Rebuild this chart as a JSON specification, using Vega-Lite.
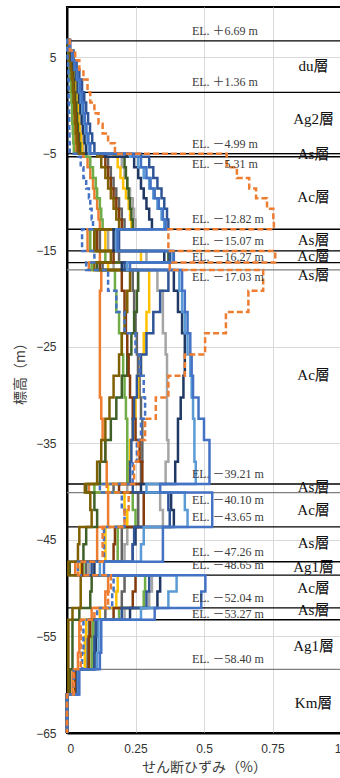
{
  "$schema": "https://vega.github.io/schema/vega-lite/v6.json",
  "width": 274,
  "height": 726,
  "autosize": {"type": "none"},
  "padding": {"left": 67, "top": 7, "right": 0, "bottom": 45},
  "background": "#ffffff",
  "datasets": {
    "pieces": [
      {"k":1,"y0":6.9,"y1":5.69},{"k":2,"y0":5.69,"y1":4.69},{"k":3,"y0":4.69,"y1":3.69},{"k":4,"y0":3.69,"y1":2.69},{"k":5,"y0":2.69,"y1":1.36},
      {"k":6,"y0":1.36,"y1":0.3},{"k":7,"y0":0.3,"y1":-0.8},{"k":8,"y0":-0.8,"y1":-1.9},{"k":9,"y0":-1.9,"y1":-2.9},{"k":10,"y0":-2.9,"y1":-3.9},
      {"k":11,"y0":-3.9,"y1":-4.99},{"k":12,"y0":-4.99,"y1":-5.31},{"k":13,"y0":-5.31,"y1":-6.4},{"k":14,"y0":-6.4,"y1":-7.5},{"k":15,"y0":-7.5,"y1":-8.6},
      {"k":16,"y0":-8.6,"y1":-9.6},{"k":17,"y0":-9.6,"y1":-10.7},{"k":18,"y0":-10.7,"y1":-11.8},{"k":19,"y0":-11.8,"y1":-12.82},{"k":20,"y0":-12.82,"y1":-15.07},
      {"k":21,"y0":-15.07,"y1":-16.27},{"k":22,"y0":-16.27,"y1":-17.03},{"k":23,"y0":-17.03,"y1":-19.2},{"k":24,"y0":-19.2,"y1":-21.4},{"k":25,"y0":-21.4,"y1":-23.6},
      {"k":26,"y0":-23.6,"y1":-25.8},{"k":27,"y0":-25.8,"y1":-28.0},{"k":28,"y0":-28.0,"y1":-30.25},{"k":29,"y0":-30.25,"y1":-32.45},{"k":30,"y0":-32.45,"y1":-34.65},
      {"k":31,"y0":-34.65,"y1":-36.9},{"k":32,"y0":-36.9,"y1":-39.21},{"k":33,"y0":-39.21,"y1":-40.1},{"k":34,"y0":-40.1,"y1":-41.9},{"k":35,"y0":-41.9,"y1":-43.65},
      {"k":36,"y0":-43.65,"y1":-45.45},{"k":37,"y0":-45.45,"y1":-47.26},{"k":38,"y0":-47.26,"y1":-48.65},{"k":39,"y0":-48.65,"y1":-50.35},{"k":40,"y0":-50.35,"y1":-52.04},
      {"k":41,"y0":-52.04,"y1":-53.27},{"k":42,"y0":-53.27,"y1":-55.0},{"k":43,"y0":-55.0,"y1":-56.7},{"k":44,"y0":-56.7,"y1":-58.4},{"k":45,"y0":-58.4,"y1":-61.0},
      {"k":46,"y0":-61.0,"y1":-65}
    ],
    "prof": [
      {"s":"OS","k":1,"v":0.004},{"s":"OS","k":2,"v":0.007},{"s":"OS","k":3,"v":0.011},{"s":"OS","k":4,"v":0.014},{"s":"OS","k":5,"v":0.017},{"s":"OS","k":6,"v":0.019},{"s":"OS","k":7,"v":0.021},{"s":"OS","k":8,"v":0.023},{"s":"OS","k":9,"v":0.025},{"s":"OS","k":10,"v":0.028},
      {"s":"OS","k":11,"v":0.03},{"s":"OS","k":12,"v":0.06},{"s":"OS","k":13,"v":0.075},{"s":"OS","k":14,"v":0.085},{"s":"OS","k":15,"v":0.095},{"s":"OS","k":16,"v":0.1},{"s":"OS","k":17,"v":0.11},{"s":"OS","k":18,"v":0.115},{"s":"OS","k":19,"v":0.12},{"s":"OS","k":20,"v":0.075},
      {"s":"OS","k":21,"v":0.12},{"s":"OS","k":22,"v":0.08},{"s":"OS","k":23,"v":0.125},{"s":"OS","k":24,"v":0.12},{"s":"OS","k":25,"v":0.12},{"s":"OS","k":26,"v":0.12},{"s":"OS","k":27,"v":0.12},{"s":"OS","k":28,"v":0.12},{"s":"OS","k":29,"v":0.125},{"s":"OS","k":30,"v":0.13},
      {"s":"OS","k":31,"v":0.14},{"s":"OS","k":32,"v":0.145},{"s":"OS","k":33,"v":0.08},{"s":"OS","k":34,"v":0.15},{"s":"OS","k":35,"v":0.15},{"s":"OS","k":36,"v":0.11},{"s":"OS","k":37,"v":0.11},{"s":"OS","k":38,"v":0.03},{"s":"OS","k":39,"v":0.15},{"s":"OS","k":40,"v":0.14},
      {"s":"OS","k":41,"v":0.09},{"s":"OS","k":42,"v":0.045},{"s":"OS","k":43,"v":0.045},{"s":"OS","k":44,"v":0.04},{"s":"OS","k":45,"v":0.02},{"s":"OS","k":46,"v":0},

      {"s":"GR","k":1,"v":0.007},{"s":"GR","k":2,"v":0.014},{"s":"GR","k":3,"v":0.021},{"s":"GR","k":4,"v":0.027},{"s":"GR","k":5,"v":0.033},{"s":"GR","k":6,"v":0.038},{"s":"GR","k":7,"v":0.042},{"s":"GR","k":8,"v":0.046},{"s":"GR","k":9,"v":0.05},{"s":"GR","k":10,"v":0.055},
      {"s":"GR","k":11,"v":0.06},{"s":"GR","k":12,"v":0.18},{"s":"GR","k":13,"v":0.2},{"s":"GR","k":14,"v":0.21},{"s":"GR","k":15,"v":0.22},{"s":"GR","k":16,"v":0.23},{"s":"GR","k":17,"v":0.24},{"s":"GR","k":18,"v":0.245},{"s":"GR","k":19,"v":0.25},{"s":"GR","k":20,"v":0.15},
      {"s":"GR","k":21,"v":0.29},{"s":"GR","k":22,"v":0.17},{"s":"GR","k":23,"v":0.33},{"s":"GR","k":24,"v":0.35},{"s":"GR","k":25,"v":0.35},{"s":"GR","k":26,"v":0.36},{"s":"GR","k":27,"v":0.365},{"s":"GR","k":28,"v":0.365},{"s":"GR","k":29,"v":0.365},{"s":"GR","k":30,"v":0.365},
      {"s":"GR","k":31,"v":0.37},{"s":"GR","k":32,"v":0.36},{"s":"GR","k":33,"v":0.22},{"s":"GR","k":34,"v":0.34},{"s":"GR","k":35,"v":0.35},{"s":"GR","k":36,"v":0.22},{"s":"GR","k":37,"v":0.21},{"s":"GR","k":38,"v":0.08},{"s":"GR","k":39,"v":0.31},{"s":"GR","k":40,"v":0.3},
      {"s":"GR","k":41,"v":0.21},{"s":"GR","k":42,"v":0.1},{"s":"GR","k":43,"v":0.1},{"s":"GR","k":44,"v":0.095},{"s":"GR","k":45,"v":0.035},{"s":"GR","k":46,"v":0},

      {"s":"DG","k":1,"v":0.006},{"s":"DG","k":2,"v":0.012},{"s":"DG","k":3,"v":0.018},{"s":"DG","k":4,"v":0.023},{"s":"DG","k":5,"v":0.028},{"s":"DG","k":6,"v":0.032},{"s":"DG","k":7,"v":0.035},{"s":"DG","k":8,"v":0.039},{"s":"DG","k":9,"v":0.042},{"s":"DG","k":10,"v":0.046},
      {"s":"DG","k":11,"v":0.05},{"s":"DG","k":12,"v":0.13},{"s":"DG","k":13,"v":0.15},{"s":"DG","k":14,"v":0.16},{"s":"DG","k":15,"v":0.17},{"s":"DG","k":16,"v":0.18},{"s":"DG","k":17,"v":0.19},{"s":"DG","k":18,"v":0.2},{"s":"DG","k":19,"v":0.21},{"s":"DG","k":20,"v":0.12},
      {"s":"DG","k":21,"v":0.19},{"s":"DG","k":22,"v":0.13},{"s":"DG","k":23,"v":0.24},{"s":"DG","k":24,"v":0.245},{"s":"DG","k":25,"v":0.25},{"s":"DG","k":26,"v":0.255},{"s":"DG","k":27,"v":0.26},{"s":"DG","k":28,"v":0.265},{"s":"DG","k":29,"v":0.27},{"s":"DG","k":30,"v":0.275},
      {"s":"DG","k":31,"v":0.275},{"s":"DG","k":32,"v":0.27},{"s":"DG","k":33,"v":0.17},{"s":"DG","k":34,"v":0.26},{"s":"DG","k":35,"v":0.26},{"s":"DG","k":36,"v":0.2},{"s":"DG","k":37,"v":0.2},{"s":"DG","k":38,"v":0.07},{"s":"DG","k":39,"v":0.21},{"s":"DG","k":40,"v":0.2},
      {"s":"DG","k":41,"v":0.14},{"s":"DG","k":42,"v":0.08},{"s":"DG","k":43,"v":0.075},{"s":"DG","k":44,"v":0.075},{"s":"DG","k":45,"v":0.03},{"s":"DG","k":46,"v":0},

      {"s":"Y","k":1,"v":0.007},{"s":"Y","k":2,"v":0.013},{"s":"Y","k":3,"v":0.019},{"s":"Y","k":4,"v":0.025},{"s":"Y","k":5,"v":0.03},{"s":"Y","k":6,"v":0.035},{"s":"Y","k":7,"v":0.039},{"s":"Y","k":8,"v":0.042},{"s":"Y","k":9,"v":0.046},{"s":"Y","k":10,"v":0.051},
      {"s":"Y","k":11,"v":0.055},{"s":"Y","k":12,"v":0.17},{"s":"Y","k":13,"v":0.185},{"s":"Y","k":14,"v":0.195},{"s":"Y","k":15,"v":0.205},{"s":"Y","k":16,"v":0.215},{"s":"Y","k":17,"v":0.225},{"s":"Y","k":18,"v":0.23},{"s":"Y","k":19,"v":0.235},{"s":"Y","k":20,"v":0.14},
      {"s":"Y","k":21,"v":0.27},{"s":"Y","k":22,"v":0.15},{"s":"Y","k":23,"v":0.3},{"s":"Y","k":24,"v":0.3},{"s":"Y","k":25,"v":0.29},{"s":"Y","k":26,"v":0.28},{"s":"Y","k":27,"v":0.27},{"s":"Y","k":28,"v":0.26},{"s":"Y","k":29,"v":0.25},{"s":"Y","k":30,"v":0.24},
      {"s":"Y","k":31,"v":0.23},{"s":"Y","k":32,"v":0.225},{"s":"Y","k":33,"v":0.15},{"s":"Y","k":34,"v":0.21},{"s":"Y","k":35,"v":0.22},{"s":"Y","k":36,"v":0.14},{"s":"Y","k":37,"v":0.14},{"s":"Y","k":38,"v":0.05},{"s":"Y","k":39,"v":0.185},{"s":"Y","k":40,"v":0.18},
      {"s":"Y","k":41,"v":0.12},{"s":"Y","k":42,"v":0.07},{"s":"Y","k":43,"v":0.065},{"s":"Y","k":44,"v":0.065},{"s":"Y","k":45,"v":0.028},{"s":"Y","k":46,"v":0},

      {"s":"G","k":1,"v":0.003},{"s":"G","k":2,"v":0.006},{"s":"G","k":3,"v":0.009},{"s":"G","k":4,"v":0.011},{"s":"G","k":5,"v":0.014},{"s":"G","k":6,"v":0.016},{"s":"G","k":7,"v":0.018},{"s":"G","k":8,"v":0.019},{"s":"G","k":9,"v":0.021},{"s":"G","k":10,"v":0.023},
      {"s":"G","k":11,"v":0.025},{"s":"G","k":12,"v":0.07},{"s":"G","k":13,"v":0.085},{"s":"G","k":14,"v":0.095},{"s":"G","k":15,"v":0.105},{"s":"G","k":16,"v":0.11},{"s":"G","k":17,"v":0.12},{"s":"G","k":18,"v":0.125},{"s":"G","k":19,"v":0.13},{"s":"G","k":20,"v":0.085},
      {"s":"G","k":21,"v":0.14},{"s":"G","k":22,"v":0.09},{"s":"G","k":23,"v":0.175},{"s":"G","k":24,"v":0.18},{"s":"G","k":25,"v":0.19},{"s":"G","k":26,"v":0.2},{"s":"G","k":27,"v":0.205},{"s":"G","k":28,"v":0.21},{"s":"G","k":29,"v":0.215},{"s":"G","k":30,"v":0.22},
      {"s":"G","k":31,"v":0.22},{"s":"G","k":32,"v":0.22},{"s":"G","k":33,"v":0.1},{"s":"G","k":34,"v":0.24},{"s":"G","k":35,"v":0.25},{"s":"G","k":36,"v":0.185},{"s":"G","k":37,"v":0.185},{"s":"G","k":38,"v":0.06},{"s":"G","k":39,"v":0.285},{"s":"G","k":40,"v":0.28},
      {"s":"G","k":41,"v":0.19},{"s":"G","k":42,"v":0.095},{"s":"G","k":43,"v":0.09},{"s":"G","k":44,"v":0.09},{"s":"G","k":45,"v":0.035},{"s":"G","k":46,"v":0},

      {"s":"DGR","k":1,"v":0.006},{"s":"DGR","k":2,"v":0.012},{"s":"DGR","k":3,"v":0.017},{"s":"DGR","k":4,"v":0.022},{"s":"DGR","k":5,"v":0.026},{"s":"DGR","k":6,"v":0.03},{"s":"DGR","k":7,"v":0.034},{"s":"DGR","k":8,"v":0.037},{"s":"DGR","k":9,"v":0.04},{"s":"DGR","k":10,"v":0.044},
      {"s":"DGR","k":11,"v":0.048},{"s":"DGR","k":12,"v":0.218},{"s":"DGR","k":13,"v":0.21},{"s":"DGR","k":14,"v":0.215},{"s":"DGR","k":15,"v":0.22},{"s":"DGR","k":16,"v":0.225},{"s":"DGR","k":17,"v":0.23},{"s":"DGR","k":18,"v":0.235},{"s":"DGR","k":19,"v":0.24},{"s":"DGR","k":20,"v":0.1},
      {"s":"DGR","k":21,"v":0.37},{"s":"DGR","k":22,"v":0.11},{"s":"DGR","k":23,"v":0.26},{"s":"DGR","k":24,"v":0.255},{"s":"DGR","k":25,"v":0.245},{"s":"DGR","k":26,"v":0.235},{"s":"DGR","k":27,"v":0.22},{"s":"DGR","k":28,"v":0.2},{"s":"DGR","k":29,"v":0.18},{"s":"DGR","k":30,"v":0.16},
      {"s":"DGR","k":31,"v":0.14},{"s":"DGR","k":32,"v":0.12},{"s":"DGR","k":33,"v":0.07},{"s":"DGR","k":34,"v":0.1},{"s":"DGR","k":35,"v":0.11},{"s":"DGR","k":36,"v":0.07},{"s":"DGR","k":37,"v":0.06},{"s":"DGR","k":38,"v":0.01},{"s":"DGR","k":39,"v":0.09},{"s":"DGR","k":40,"v":0.085},
      {"s":"DGR","k":41,"v":0.045},{"s":"DGR","k":42,"v":0.02},{"s":"DGR","k":43,"v":0.02},{"s":"DGR","k":44,"v":0.02},{"s":"DGR","k":45,"v":0.01},{"s":"DGR","k":46,"v":0},

      {"s":"BR","k":1,"v":0.005},{"s":"BR","k":2,"v":0.01},{"s":"BR","k":3,"v":0.015},{"s":"BR","k":4,"v":0.019},{"s":"BR","k":5,"v":0.023},{"s":"BR","k":6,"v":0.026},{"s":"BR","k":7,"v":0.029},{"s":"BR","k":8,"v":0.032},{"s":"BR","k":9,"v":0.035},{"s":"BR","k":10,"v":0.039},
      {"s":"BR","k":11,"v":0.042},{"s":"BR","k":12,"v":0.12},{"s":"BR","k":13,"v":0.14},{"s":"BR","k":14,"v":0.15},{"s":"BR","k":15,"v":0.16},{"s":"BR","k":16,"v":0.17},{"s":"BR","k":17,"v":0.18},{"s":"BR","k":18,"v":0.19},{"s":"BR","k":19,"v":0.2},{"s":"BR","k":20,"v":0.11},
      {"s":"BR","k":21,"v":0.17},{"s":"BR","k":22,"v":0.12},{"s":"BR","k":23,"v":0.2},{"s":"BR","k":24,"v":0.21},{"s":"BR","k":25,"v":0.215},{"s":"BR","k":26,"v":0.22},{"s":"BR","k":27,"v":0.225},{"s":"BR","k":28,"v":0.23},{"s":"BR","k":29,"v":0.24},{"s":"BR","k":30,"v":0.25},
      {"s":"BR","k":31,"v":0.265},{"s":"BR","k":32,"v":0.275},{"s":"BR","k":33,"v":0.19},{"s":"BR","k":34,"v":0.28},{"s":"BR","k":35,"v":0.28},{"s":"BR","k":36,"v":0.175},{"s":"BR","k":37,"v":0.17},{"s":"BR","k":38,"v":0.055},{"s":"BR","k":39,"v":0.25},{"s":"BR","k":40,"v":0.24},
      {"s":"BR","k":41,"v":0.17},{"s":"BR","k":42,"v":0.085},{"s":"BR","k":43,"v":0.08},{"s":"BR","k":44,"v":0.08},{"s":"BR","k":45,"v":0.03},{"s":"BR","k":46,"v":0},

      {"s":"OL","k":1,"v":0.005},{"s":"OL","k":2,"v":0.009},{"s":"OL","k":3,"v":0.013},{"s":"OL","k":4,"v":0.017},{"s":"OL","k":5,"v":0.021},{"s":"OL","k":6,"v":0.024},{"s":"OL","k":7,"v":0.027},{"s":"OL","k":8,"v":0.029},{"s":"OL","k":9,"v":0.032},{"s":"OL","k":10,"v":0.035},
      {"s":"OL","k":11,"v":0.038},{"s":"OL","k":12,"v":0.11},{"s":"OL","k":13,"v":0.125},{"s":"OL","k":14,"v":0.14},{"s":"OL","k":15,"v":0.15},{"s":"OL","k":16,"v":0.16},{"s":"OL","k":17,"v":0.17},{"s":"OL","k":18,"v":0.18},{"s":"OL","k":19,"v":0.19},{"s":"OL","k":20,"v":0.1},
      {"s":"OL","k":21,"v":0.16},{"s":"OL","k":22,"v":0.1},{"s":"OL","k":23,"v":0.23},{"s":"OL","k":24,"v":0.22},{"s":"OL","k":25,"v":0.21},{"s":"OL","k":26,"v":0.2},{"s":"OL","k":27,"v":0.19},{"s":"OL","k":28,"v":0.17},{"s":"OL","k":29,"v":0.155},{"s":"OL","k":30,"v":0.14},
      {"s":"OL","k":31,"v":0.125},{"s":"OL","k":32,"v":0.11},{"s":"OL","k":33,"v":0.065},{"s":"OL","k":34,"v":0.085},{"s":"OL","k":35,"v":0.09},{"s":"OL","k":36,"v":0.045},{"s":"OL","k":37,"v":0.04},{"s":"OL","k":38,"v":0.005},{"s":"OL","k":39,"v":0.05},{"s":"OL","k":40,"v":0.05},
      {"s":"OL","k":41,"v":0.02},{"s":"OL","k":42,"v":0.005},{"s":"OL","k":43,"v":0.005},{"s":"OL","k":44,"v":0.005},{"s":"OL","k":45,"v":0.005},{"s":"OL","k":46,"v":0},

      {"s":"NV","k":1,"v":0.008},{"s":"NV","k":2,"v":0.017},{"s":"NV","k":3,"v":0.025},{"s":"NV","k":4,"v":0.032},{"s":"NV","k":5,"v":0.039},{"s":"NV","k":6,"v":0.044},{"s":"NV","k":7,"v":0.049},{"s":"NV","k":8,"v":0.054},{"s":"NV","k":9,"v":0.059},{"s":"NV","k":10,"v":0.064},
      {"s":"NV","k":11,"v":0.07},{"s":"NV","k":12,"v":0.14},{"s":"NV","k":13,"v":0.245},{"s":"NV","k":14,"v":0.26},{"s":"NV","k":15,"v":0.27},{"s":"NV","k":16,"v":0.28},{"s":"NV","k":17,"v":0.29},{"s":"NV","k":18,"v":0.3},{"s":"NV","k":19,"v":0.31},{"s":"NV","k":20,"v":0.17},
      {"s":"NV","k":21,"v":0.355},{"s":"NV","k":22,"v":0.2},{"s":"NV","k":23,"v":0.39},{"s":"NV","k":24,"v":0.405},{"s":"NV","k":25,"v":0.42},{"s":"NV","k":26,"v":0.43},{"s":"NV","k":27,"v":0.43},{"s":"NV","k":28,"v":0.425},{"s":"NV","k":29,"v":0.415},{"s":"NV","k":30,"v":0.405},
      {"s":"NV","k":31,"v":0.405},{"s":"NV","k":32,"v":0.395},{"s":"NV","k":33,"v":0.27},{"s":"NV","k":34,"v":0.38},{"s":"NV","k":35,"v":0.39},{"s":"NV","k":36,"v":0.25},{"s":"NV","k":37,"v":0.24},{"s":"NV","k":38,"v":0.1},{"s":"NV","k":39,"v":0.34},{"s":"NV","k":40,"v":0.33},
      {"s":"NV","k":41,"v":0.23},{"s":"NV","k":42,"v":0.11},{"s":"NV","k":43,"v":0.105},{"s":"NV","k":44,"v":0.1},{"s":"NV","k":45,"v":0.04},{"s":"NV","k":46,"v":0},

      {"s":"SB","k":1,"v":0.012},{"s":"SB","k":2,"v":0.024},{"s":"SB","k":3,"v":0.035},{"s":"SB","k":4,"v":0.045},{"s":"SB","k":5,"v":0.055},{"s":"SB","k":6,"v":0.063},{"s":"SB","k":7,"v":0.07},{"s":"SB","k":8,"v":0.077},{"s":"SB","k":9,"v":0.084},{"s":"SB","k":10,"v":0.092},
      {"s":"SB","k":11,"v":0.1},{"s":"SB","k":12,"v":0.27},{"s":"SB","k":13,"v":0.3},{"s":"SB","k":14,"v":0.315},{"s":"SB","k":15,"v":0.33},{"s":"SB","k":16,"v":0.345},{"s":"SB","k":17,"v":0.355},{"s":"SB","k":18,"v":0.365},{"s":"SB","k":19,"v":0.37},{"s":"SB","k":20,"v":0.19},
      {"s":"SB","k":21,"v":0.375},{"s":"SB","k":22,"v":0.21},{"s":"SB","k":23,"v":0.37},{"s":"SB","k":24,"v":0.34},{"s":"SB","k":25,"v":0.315},{"s":"SB","k":26,"v":0.29},{"s":"SB","k":27,"v":0.27},{"s":"SB","k":28,"v":0.255},{"s":"SB","k":29,"v":0.245},{"s":"SB","k":30,"v":0.24},
      {"s":"SB","k":31,"v":0.235},{"s":"SB","k":32,"v":0.23},{"s":"SB","k":33,"v":0.24},{"s":"SB","k":34,"v":0.37},{"s":"SB","k":35,"v":0.375},{"s":"SB","k":36,"v":0.245},{"s":"SB","k":37,"v":0.24},{"s":"SB","k":38,"v":0.09},{"s":"SB","k":39,"v":0.3},{"s":"SB","k":40,"v":0.29},
      {"s":"SB","k":41,"v":0.2},{"s":"SB","k":42,"v":0.105},{"s":"SB","k":43,"v":0.1},{"s":"SB","k":44,"v":0.1},{"s":"SB","k":45,"v":0.038},{"s":"SB","k":46,"v":0},

      {"s":"LB","k":1,"v":0.01},{"s":"LB","k":2,"v":0.019},{"s":"LB","k":3,"v":0.028},{"s":"LB","k":4,"v":0.036},{"s":"LB","k":5,"v":0.044},{"s":"LB","k":6,"v":0.05},{"s":"LB","k":7,"v":0.056},{"s":"LB","k":8,"v":0.062},{"s":"LB","k":9,"v":0.067},{"s":"LB","k":10,"v":0.074},
      {"s":"LB","k":11,"v":0.08},{"s":"LB","k":12,"v":0.23},{"s":"LB","k":13,"v":0.26},{"s":"LB","k":14,"v":0.28},{"s":"LB","k":15,"v":0.3},{"s":"LB","k":16,"v":0.315},{"s":"LB","k":17,"v":0.33},{"s":"LB","k":18,"v":0.345},{"s":"LB","k":19,"v":0.355},{"s":"LB","k":20,"v":0.18},
      {"s":"LB","k":21,"v":0.385},{"s":"LB","k":22,"v":0.22},{"s":"LB","k":23,"v":0.41},{"s":"LB","k":24,"v":0.42},{"s":"LB","k":25,"v":0.43},{"s":"LB","k":26,"v":0.44},{"s":"LB","k":27,"v":0.45},{"s":"LB","k":28,"v":0.455},{"s":"LB","k":29,"v":0.46},{"s":"LB","k":30,"v":0.465},
      {"s":"LB","k":31,"v":0.465},{"s":"LB","k":32,"v":0.47},{"s":"LB","k":33,"v":0.29},{"s":"LB","k":34,"v":0.43},{"s":"LB","k":35,"v":0.44},{"s":"LB","k":36,"v":0.28},{"s":"LB","k":37,"v":0.27},{"s":"LB","k":38,"v":0.12},{"s":"LB","k":39,"v":0.4},{"s":"LB","k":40,"v":0.37},
      {"s":"LB","k":41,"v":0.27},{"s":"LB","k":42,"v":0.115},{"s":"LB","k":43,"v":0.115},{"s":"LB","k":44,"v":0.11},{"s":"LB","k":45,"v":0.042},{"s":"LB","k":46,"v":0},

      {"s":"B","k":1,"v":0.01},{"s":"B","k":2,"v":0.02},{"s":"B","k":3,"v":0.03},{"s":"B","k":4,"v":0.038},{"s":"B","k":5,"v":0.047},{"s":"B","k":6,"v":0.054},{"s":"B","k":7,"v":0.06},{"s":"B","k":8,"v":0.065},{"s":"B","k":9,"v":0.071},{"s":"B","k":10,"v":0.078},
      {"s":"B","k":11,"v":0.085},{"s":"B","k":12,"v":0.24},{"s":"B","k":13,"v":0.27},{"s":"B","k":14,"v":0.29},{"s":"B","k":15,"v":0.305},{"s":"B","k":16,"v":0.32},{"s":"B","k":17,"v":0.335},{"s":"B","k":18,"v":0.35},{"s":"B","k":19,"v":0.36},{"s":"B","k":20,"v":0.185},
      {"s":"B","k":21,"v":0.39},{"s":"B","k":22,"v":0.23},{"s":"B","k":23,"v":0.42},{"s":"B","k":24,"v":0.43},{"s":"B","k":25,"v":0.44},{"s":"B","k":26,"v":0.45},{"s":"B","k":27,"v":0.455},{"s":"B","k":28,"v":0.46},{"s":"B","k":29,"v":0.48},{"s":"B","k":30,"v":0.5},
      {"s":"B","k":31,"v":0.52},{"s":"B","k":32,"v":0.52},{"s":"B","k":33,"v":0.34},{"s":"B","k":34,"v":0.53},{"s":"B","k":35,"v":0.53},{"s":"B","k":36,"v":0.35},{"s":"B","k":37,"v":0.35},{"s":"B","k":38,"v":0.135},{"s":"B","k":39,"v":0.505},{"s":"B","k":40,"v":0.49},
      {"s":"B","k":41,"v":0.32},{"s":"B","k":42,"v":0.125},{"s":"B","k":43,"v":0.125},{"s":"B","k":44,"v":0.12},{"s":"B","k":45,"v":0.045},{"s":"B","k":46,"v":0},

      {"s":"BD","k":1,"v":0.001},{"s":"BD","k":2,"v":0.002},{"s":"BD","k":3,"v":0.004},{"s":"BD","k":4,"v":0.005},{"s":"BD","k":5,"v":0.006},{"s":"BD","k":6,"v":0.006},{"s":"BD","k":7,"v":0.007},{"s":"BD","k":8,"v":0.008},{"s":"BD","k":9,"v":0.008},{"s":"BD","k":10,"v":0.009},
      {"s":"BD","k":11,"v":0.01},{"s":"BD","k":12,"v":0.04},{"s":"BD","k":13,"v":0.05},{"s":"BD","k":14,"v":0.06},{"s":"BD","k":15,"v":0.07},{"s":"BD","k":16,"v":0.08},{"s":"BD","k":17,"v":0.085},{"s":"BD","k":18,"v":0.09},{"s":"BD","k":19,"v":0.095},{"s":"BD","k":20,"v":0.055},
      {"s":"BD","k":21,"v":0.1},{"s":"BD","k":22,"v":0.07},{"s":"BD","k":23,"v":0.15},{"s":"BD","k":24,"v":0.18},{"s":"BD","k":25,"v":0.21},{"s":"BD","k":26,"v":0.25},{"s":"BD","k":27,"v":0.265},{"s":"BD","k":28,"v":0.28},{"s":"BD","k":29,"v":0.285},{"s":"BD","k":30,"v":0.27},
      {"s":"BD","k":31,"v":0.255},{"s":"BD","k":32,"v":0.24},{"s":"BD","k":33,"v":0.12},{"s":"BD","k":34,"v":0.2},{"s":"BD","k":35,"v":0.21},{"s":"BD","k":36,"v":0.135},{"s":"BD","k":37,"v":0.135},{"s":"BD","k":38,"v":0.04},{"s":"BD","k":39,"v":0.17},{"s":"BD","k":40,"v":0.165},
      {"s":"BD","k":41,"v":0.11},{"s":"BD","k":42,"v":0.06},{"s":"BD","k":43,"v":0.06},{"s":"BD","k":44,"v":0.055},{"s":"BD","k":45,"v":0.025},{"s":"BD","k":46,"v":0},

      {"s":"OD","k":1,"v":0.01},{"s":"OD","k":2,"v":0.03},{"s":"OD","k":3,"v":0.045},{"s":"OD","k":4,"v":0.06},{"s":"OD","k":5,"v":0.075},{"s":"OD","k":6,"v":0.085},{"s":"OD","k":7,"v":0.1},{"s":"OD","k":8,"v":0.115},{"s":"OD","k":9,"v":0.13},{"s":"OD","k":10,"v":0.15},
      {"s":"OD","k":11,"v":0.175},{"s":"OD","k":12,"v":0.583},{"s":"OD","k":13,"v":0.583},{"s":"OD","k":14,"v":0.62},{"s":"OD","k":15,"v":0.665},{"s":"OD","k":16,"v":0.69},{"s":"OD","k":17,"v":0.73},{"s":"OD","k":18,"v":0.753},{"s":"OD","k":19,"v":0.755},{"s":"OD","k":20,"v":0.37},
      {"s":"OD","k":21,"v":0.76},{"s":"OD","k":22,"v":0.375},{"s":"OD","k":23,"v":0.716},{"s":"OD","k":24,"v":0.662},{"s":"OD","k":25,"v":0.58},{"s":"OD","k":26,"v":0.504},{"s":"OD","k":27,"v":0.43},{"s":"OD","k":28,"v":0.37},{"s":"OD","k":29,"v":0.324},{"s":"OD","k":30,"v":0.285},
      {"s":"OD","k":31,"v":0.26},{"s":"OD","k":32,"v":0.245},{"s":"OD","k":33,"v":0.145},{"s":"OD","k":34,"v":0.225},{"s":"OD","k":35,"v":0.21},{"s":"OD","k":36,"v":0.13},{"s":"OD","k":37,"v":0.13},{"s":"OD","k":38,"v":0.04},{"s":"OD","k":39,"v":0.16},{"s":"OD","k":40,"v":0.15},
      {"s":"OD","k":41,"v":0.1},{"s":"OD","k":42,"v":0.05},{"s":"OD","k":43,"v":0.05},{"s":"OD","k":44,"v":0.05},{"s":"OD","k":45,"v":0.025},{"s":"OD","k":46,"v":0}
    ],
    "els": [
      {"el":6.69,"label":"EL. ＋6.69 m","pos":"above","kind":"main"},
      {"el":1.36,"label":"EL. ＋1.36 m","pos":"above","kind":"main"},
      {"el":-4.99,"label":"EL. －4.99 m","pos":"above","kind":"main"},
      {"el":-5.31,"label":"EL. －5.31 m","pos":"below","kind":"main"},
      {"el":-12.82,"label":"EL. －12.82 m","pos":"above","kind":"main"},
      {"el":-15.07,"label":"EL. －15.07 m","pos":"above","kind":"main"},
      {"el":-16.27,"label":"EL. －16.27 m","pos":"near","kind":"main"},
      {"el":-17.03,"label":"EL. －17.03 m","pos":"below","kind":"sub"},
      {"el":-39.21,"label":"EL. －39.21 m","pos":"above","kind":"main"},
      {"el":-40.1,"label":"EL. －40.10 m","pos":"below","kind":"sub"},
      {"el":-43.65,"label":"EL. －43.65 m","pos":"above","kind":"main"},
      {"el":-47.26,"label":"EL. －47.26 m","pos":"above","kind":"main"},
      {"el":-48.65,"label":"EL. －48.65 m","pos":"above","kind":"main"},
      {"el":-52.04,"label":"EL. －52.04 m","pos":"above","kind":"main"},
      {"el":-53.27,"label":"EL. －53.27 m","pos":"near","kind":"main"},
      {"el":-58.4,"label":"EL. －58.40 m","pos":"above","kind":"sub"}
    ],
    "names": [
      {"name":"du層","el":4.14},{"name":"Ag2層","el":-1.37},{"name":"As層","el":-4.99},{"name":"Ac層","el":-9.48},
      {"name":"As層","el":-13.89},{"name":"Ac層","el":-15.62},{"name":"As層","el":-17.58},{"name":"Ac層","el":-27.93},
      {"name":"As層","el":-39.49},{"name":"Ac層","el":-41.9},{"name":"As層","el":-45.34},{"name":"Ag1層","el":-47.76},
      {"name":"Ac層","el":-50.0},{"name":"As層","el":-52.24},{"name":"Ag1層","el":-55.97},{"name":"Km層","el":-61.9}
    ]
  },
  "layer": [
    {
      "data": {"name": "els"},
      "mark": {"type": "rule", "strokeWidth": 1.3},
      "encoding": {
        "y": {"field": "el", "type": "quantitative", "scale": {"domain": [-65, 10.2], "nice": false, "zero": false}, "title": "標高（m）",
              "axis": {"values": [-65, -55, -45, -35, -25, -15, -5, 5], "format": "~g", "titleColor": "#3c3c3c"}},
        "color": {"condition": {"test": "datum.kind === 'sub'", "value": "#7f7f7f"}, "value": "#000000"}
      }
    },
    {
      "data": {"name": "prof"},
      "transform": [
        {"lookup": "k", "from": {"data": {"name": "pieces"}, "key": "k", "fields": ["y0", "y1"]}},
        {"fold": ["y0", "y1"], "as": ["end", "el"]},
        {"window": [{"op": "row_number", "as": "seq"}], "groupby": ["s"], "sort": [{"field": "k", "order": "ascending"}, {"field": "end", "order": "ascending"}]}
      ],
      "mark": {"type": "line", "strokeWidth": 2.5, "strokeJoin": "miter"},
      "encoding": {
        "x": {"field": "v", "type": "quantitative", "scale": {"domain": [0, 1], "nice": false}, "title": "せん断ひずみ（%）",
              "axis": {"values": [0, 0.25, 0.5, 0.75, 1], "format": ".2~f", "titleColor": "#3c3c3c"}},
        "y": {"field": "el", "type": "quantitative", "scale": {"domain": [-65, 10.2], "nice": false, "zero": false}, "title": "標高（m）"},
        "color": {"field": "s", "type": "nominal", "legend": null,
                  "scale": {"domain": ["OS","GR","DG","Y","G","DGR","BR","OL","NV","SB","LB","B","BD","OD"],
                            "range": ["#ED7D31","#A5A5A5","#636363","#FFC000","#70AD47","#3F6129","#843C0C","#7F6000","#203864","#2F5597","#5B9BD5","#4472C4","#4472C4","#ED7D31"]}},
        "strokeDash": {"field": "s", "type": "nominal", "legend": null,
                  "scale": {"domain": ["OS","GR","DG","Y","G","DGR","BR","OL","NV","SB","LB","B","BD","OD"],
                            "range": [[1,0],[1,0],[1,0],[1,0],[1,0],[1,0],[1,0],[1,0],[1,0],[1,0],[1,0],[1,0],[5,3],[6,3]]}},
        "order": {"field": "seq", "type": "quantitative"}
      }
    },
    {
      "data": {"name": "els"},
      "transform": [{"filter": {"field": "pos", "equal": "above"}}],
      "mark": {"type": "text", "align": "left", "baseline": "middle", "dy": -10, "font": "Liberation Serif, Noto Sans CJK JP", "fontSize": 12, "color": "#3a3a3a"},
      "encoding": {
        "x": {"datum": 0.456},
        "y": {"field": "el", "type": "quantitative", "scale": {"domain": [-65, 10.2], "nice": false, "zero": false}, "title": "標高（m）"},
        "text": {"field": "label"}
      }
    },
    {
      "data": {"name": "els"},
      "transform": [{"filter": {"field": "pos", "equal": "near"}}],
      "mark": {"type": "text", "align": "left", "baseline": "middle", "dy": -6, "font": "Liberation Serif, Noto Sans CJK JP", "fontSize": 12, "color": "#3a3a3a"},
      "encoding": {
        "x": {"datum": 0.456},
        "y": {"field": "el", "type": "quantitative", "scale": {"domain": [-65, 10.2], "nice": false, "zero": false}, "title": "標高（m）"},
        "text": {"field": "label"}
      }
    },
    {
      "data": {"name": "els"},
      "transform": [{"filter": {"field": "pos", "equal": "below"}}],
      "mark": {"type": "text", "align": "left", "baseline": "middle", "dy": 7, "font": "Liberation Serif, Noto Sans CJK JP", "fontSize": 12, "color": "#3a3a3a"},
      "encoding": {
        "x": {"datum": 0.456},
        "y": {"field": "el", "type": "quantitative", "scale": {"domain": [-65, 10.2], "nice": false, "zero": false}, "title": "標高（m）"},
        "text": {"field": "label"}
      }
    },
    {
      "data": {"name": "names"},
      "mark": {"type": "text", "align": "center", "baseline": "middle", "font": "Liberation Serif, Noto Sans CJK JP", "fontSize": 15, "color": "#111111"},
      "encoding": {
        "x": {"datum": 0.9},
        "y": {"field": "el", "type": "quantitative", "scale": {"domain": [-65, 10.2], "nice": false, "zero": false}, "title": "標高（m）"},
        "text": {"field": "name"}
      }
    }
  ],
  "config": {
    "view": {"stroke": "#000000", "strokeWidth": 2},
    "axis": {
      "ticks": false,
      "grid": true,
      "gridColor": "#d9d9d9",
      "gridWidth": 1,
      "domainColor": "#000000",
      "domainWidth": 2,
      "labelFont": "Liberation Sans",
      "labelFontSize": 12,
      "labelColor": "#333333",
      "titleFont": "Noto Sans CJK JP",
      "titleFontSize": 14,
      "titleFontWeight": "normal",
      "titleColor": "#3c3c3c"
    },
    "axisX": {"labelPadding": 10, "titlePadding": 6},
    "axisY": {"labelPadding": 11, "titlePadding": 8}
  }
}
